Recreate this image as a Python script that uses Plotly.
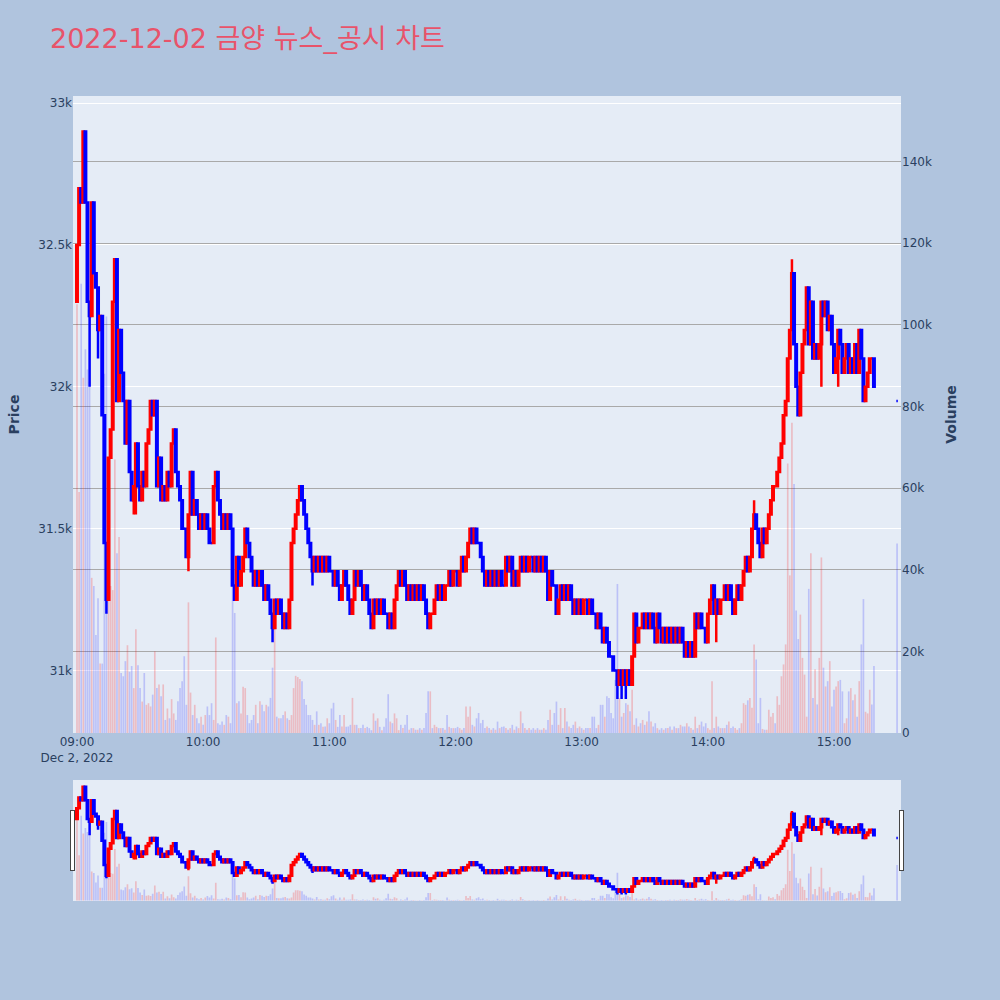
import numpy as np
import pandas as pd
import plotly.graph_objects as go

# 1분봉 시간축: 09:00 ~ 15:19 + 15:30 종가 단일가
times = list(pd.date_range("2022-12-02 09:00", "2022-12-02 15:19", freq="min")) + [pd.Timestamp("2022-12-02 15:30")]

first_open = 32300
closing_open = 31950  # 15:30 단일가 시가

# 분봉 종가 (원)
closes = [
    32500, 32700, 32650, 32900, 32650, 32300, 32250, 32650, 32400, 32350,
    32200, 32250, 31900, 31450, 31250, 31750, 31850, 32300, 32450, 31950,
    32200, 32050, 31950, 31800, 31950, 31700, 31600, 31650, 31800, 31650,
    31600, 31700, 31650, 31800, 31850, 31950, 31900, 31950, 31650, 31750,
    31600, 31650, 31600, 31700, 31650, 31800, 31850, 31700, 31650, 31600,
    31500, 31500, 31400, 31550, 31700, 31550, 31600, 31550, 31500, 31550,
    31500, 31550, 31500, 31450, 31450, 31650, 31700, 31600, 31550, 31500,
    31550, 31500, 31550, 31500, 31300, 31250, 31400, 31300, 31350, 31400,
    31500, 31450, 31400, 31350, 31300, 31350, 31300, 31350, 31300, 31250,
    31300, 31250, 31200, 31150, 31250, 31200, 31250, 31200, 31150, 31200,
    31150, 31250, 31450, 31500, 31550, 31600, 31650, 31600, 31550, 31500,
    31450, 31400, 31350, 31400, 31350, 31400, 31350, 31400, 31350, 31400,
    31350, 31350, 31300, 31350, 31300, 31250, 31300, 31350, 31300, 31250,
    31200, 31250, 31350, 31300, 31350, 31300, 31250, 31300, 31250, 31200,
    31150, 31250, 31200, 31250, 31200, 31250, 31200, 31200, 31150, 31200,
    31150, 31250, 31300, 31350, 31300, 31350, 31300, 31250, 31300, 31250,
    31300, 31250, 31300, 31250, 31300, 31250, 31200, 31150, 31200, 31200,
    31250, 31300, 31250, 31300, 31250, 31300, 31300, 31350, 31300, 31350,
    31350, 31300, 31350, 31400, 31350, 31400, 31450, 31500, 31450, 31500,
    31450, 31450, 31400, 31350, 31300, 31350, 31300, 31350, 31300, 31350,
    31300, 31350, 31300, 31300, 31400, 31350, 31400, 31300, 31350, 31300,
    31350, 31400, 31350, 31400, 31350, 31400, 31400, 31350, 31400, 31350,
    31400, 31350, 31400, 31350, 31250, 31350, 31300, 31300, 31200, 31250,
    31300, 31250, 31300, 31250, 31300, 31250, 31200, 31250, 31200, 31250,
    31200, 31250, 31250, 31200, 31250, 31200, 31200, 31150, 31200, 31150,
    31100, 31150, 31100, 31050, 31050, 31000, 31000, 30950, 31000, 30950,
    31000, 30950, 31000, 30950, 31050, 31200, 31100, 31150, 31150, 31200,
    31150, 31200, 31150, 31200, 31150, 31100, 31200, 31150, 31100, 31150,
    31100, 31150, 31100, 31150, 31100, 31150, 31100, 31150, 31100, 31050,
    31100, 31050, 31100, 31050, 31200, 31150, 31200, 31150, 31150, 31100,
    31200, 31250, 31300, 31200, 31250, 31200, 31250, 31250, 31300, 31250,
    31300, 31250, 31200, 31250, 31300, 31250, 31300, 31350, 31400, 31350,
    31400, 31500, 31550, 31500, 31450, 31400, 31500, 31450, 31500, 31550,
    31600, 31650, 31650, 31700, 31750, 31800, 31900, 31950, 32100, 32200,
    32400, 32150, 32000, 31900, 32050, 32150, 32200, 32350, 32150, 32300,
    32100, 32150, 32100, 32150, 32300, 32250, 32300, 32200, 32250, 32150,
    32050, 32100, 32200, 32150, 32050, 32100, 32150, 32050, 32100, 32050,
    32150, 32050, 32200, 32100, 31950, 32000, 32050, 32100, 32100, 32000,
    31950,
]

# 꼬리 (분봉 인덱스: 가격)
wick_high = {18: 32450, 322: 31600, 340: 32450, 347: 32350}
wick_low = {6: 32000, 10: 32100, 14: 31200, 27: 31550, 28: 31550, 53: 31350,
            93: 31100, 112: 31300, 257: 30900, 259: 30900, 261: 30900,
            304: 31100, 343: 31900, 354: 32000, 362: 32000}

# 거래량 (천 주)
volume_k = [
    105, 59, 110, 87, 94, 89, 86, 38, 36, 24,
    33, 17, 17, 88, 102, 65, 36, 35, 67, 44,
    48, 14.7, 13.9, 17.6, 21.5, 15, 16.4, 11, 25.4, 16.6,
    11, 7.7, 14.7, 6.9, 7.3, 6.5, 9.4, 20, 11, 11.9,
    9, 11.9, 3.2, 6, 3.6, 8.3, 4.8, 3.2, 7.8, 11,
    12.7, 18.8, 6.9, 32, 9.9, 4.4, 6.9, 3.6, 2.4, 4,
    2, 4.4, 6.5, 4.4, 7.3, 3.2, 23.4, 2.4, 2, 2.8,
    2, 4.4, 4, 2.4, 36, 29.4, 7.3, 7.8, 4.8, 11.3,
    11, 4.4, 2.4, 3.2, 4.4, 6.9, 2.4, 7.8, 6.9, 5.3,
    6.9, 6.5, 8.6, 16, 32, 4, 3.6, 3.6, 4.4, 5.3,
    3.6, 3.2, 4.4, 11, 14, 13.7, 13.2, 12.7, 8.3, 6.9,
    4.4, 4.4, 3.2, 2, 5.3, 2, 2.4, 1.5, 1.6, 3.6,
    2.4, 6, 7.4, 3.2, 1.5, 4.4, 1.6, 4.4, 1.5, 1.6,
    2, 8.6, 2, 2, 1.2, 1.2, 2, 1.2, 1.5, 1.2,
    0.7, 4.8, 3, 3.6, 1.5, 0.7, 1.5, 3.6, 9.5, 2.8,
    2.4, 4.8, 3.6, 0.7, 2, 1.2, 2, 4.4, 0.8, 1.2,
    1.2, 0.8, 0.8, 1.2, 0.8, 1.2, 4.9, 10.2, 10.2, 1.2,
    2, 1.5, 1.2, 1.2, 1.2, 0.8, 4.4, 1.5, 1.2, 1.2,
    1.2, 1.5, 1.2, 0.8, 1.2, 6.5, 4, 6.5, 2, 1.6,
    3.6, 4.9, 2.4, 3.2, 1.2, 1.6, 1.2, 0.8, 1.2, 0.8,
    2.8, 1.2, 1.5, 1.6, 1.2, 0.8, 1.2, 2, 0.8, 1.6,
    1.2, 5.3, 2.4, 1.2, 0.8, 1.2, 0.8, 1.2, 0.8, 1.2,
    0.8, 0.8, 1.2, 0.8, 3.2, 5.7, 2, 4.9, 7.7, 2,
    6.1, 1.2, 6.1, 2.8, 1.6, 1.2, 2, 2.8, 1.2, 1.6,
    1.2, 0.8, 1.2, 1.2, 1.2, 4, 4, 1.2, 2, 6.9,
    6.9, 4, 9, 8.6, 4.9, 3.6, 13, 36.5, 8.6, 4,
    4.9, 7.3, 6.9, 5.3, 10.6, 2, 3.6, 1.6, 2.4, 3.2,
    2, 2.8, 5.3, 2.8, 1.6, 2.4, 1.2, 0.8, 1.2, 0.8,
    1.2, 1.2, 1.6, 0.8, 1.6, 1.2, 1.2, 2, 1.6, 1.6,
    2.4, 1.6, 1.2, 0.8, 4, 1.2, 2, 2.8, 1.6, 2.4,
    1.2, 0.8, 12.7, 1.2, 4, 1.6, 1.2, 1.2, 1.2, 2,
    2.8, 1.2, 1.6, 1.2, 0.8, 1.2, 2.4, 7.3, 6.9, 8,
    8.6, 6.2, 21.7, 18, 2.4, 8.6, 1, 0.8, 0.8, 5.7,
    4, 4.9, 2.4, 9, 6.9, 13.9, 16.8, 21.7, 66, 38.6,
    76, 61, 30, 23, 29, 18.4, 14.3, 4, 35.3, 44,
    8.6, 15.6, 7, 18.4, 43, 16, 11.4, 12.7, 17.6, 6.5,
    10.6, 11.4, 12.7, 13, 10.2, 2.4, 3.6, 10.2, 11, 8,
    9.4, 4, 12.7, 21.7, 32.8, 5.2, 4.8, 10.6, 7, 16.4,
    46.4,
]

# 시가 = 직전 종가 (15:30 단일가는 별도), 고가/저가 = 몸통 + 꼬리
opens = [first_open] + closes[:-2] + [closing_open]
highs = [max(o, c, wick_high.get(i, 0)) for i, (o, c) in enumerate(zip(opens, closes))]
lows = [min(o, c, wick_low.get(i, 10**6)) for i, (o, c) in enumerate(zip(opens, closes))]
volumes = np.array(volume_k) * 1000
vol_colors = ['rgba(255,0,0,0.2)' if c > o else 'rgba(0,0,255,0.18)' for o, c in zip(opens, closes)]

fig = go.Figure()

# 거래량 (오른쪽 축)
fig.add_trace(go.Bar(
    x=times, y=volumes, marker_color=vol_colors, marker_line_width=0,
    yaxis='y', name='Volume', showlegend=False
))

# 가격 캔들 (왼쪽 축)
fig.add_trace(go.Candlestick(
    x=times, open=opens, high=highs, low=lows, close=closes,
    increasing_line_color='red', increasing_fillcolor='red',
    decreasing_line_color='blue', decreasing_fillcolor='blue',
    increasing_line_width=2.5, decreasing_line_width=2.5,
    yaxis='y2', name='Price', showlegend=False
))

fig.update_layout(
    title=dict(text="2022-12-02 금양 뉴스_공시 차트",
               font=dict(size=27, color='#E8536A')),
    font=dict(family="DejaVu Sans, Noto Sans CJK KR"),
    paper_bgcolor='#B0C4DE',
    plot_bgcolor='#E5ECF6',
    width=1000, height=1000,
    margin=dict(l=73, r=99, t=96, b=100),
    boxgap=0,
    xaxis=dict(
        type='date',
        range=["2022-12-02 08:58:06", "2022-12-02 15:31:52"],
        rangeslider=dict(visible=True, bgcolor='#E5ECF6'),
    ),
    yaxis=dict(
        title=dict(text="<b>Volume</b>"),
        side='right', range=[0, 156000],
        gridcolor='darkgray', zeroline=False,
    ),
    yaxis2=dict(
        title=dict(text="<b>Price</b>"),
        side='left', overlaying='y', range=[30780, 33025],
        gridcolor='white', zeroline=False,
    ),
)

fig.write_html("out.html", config={'displayModeBar': False},
               post_script="document.body.style.margin='0';")
